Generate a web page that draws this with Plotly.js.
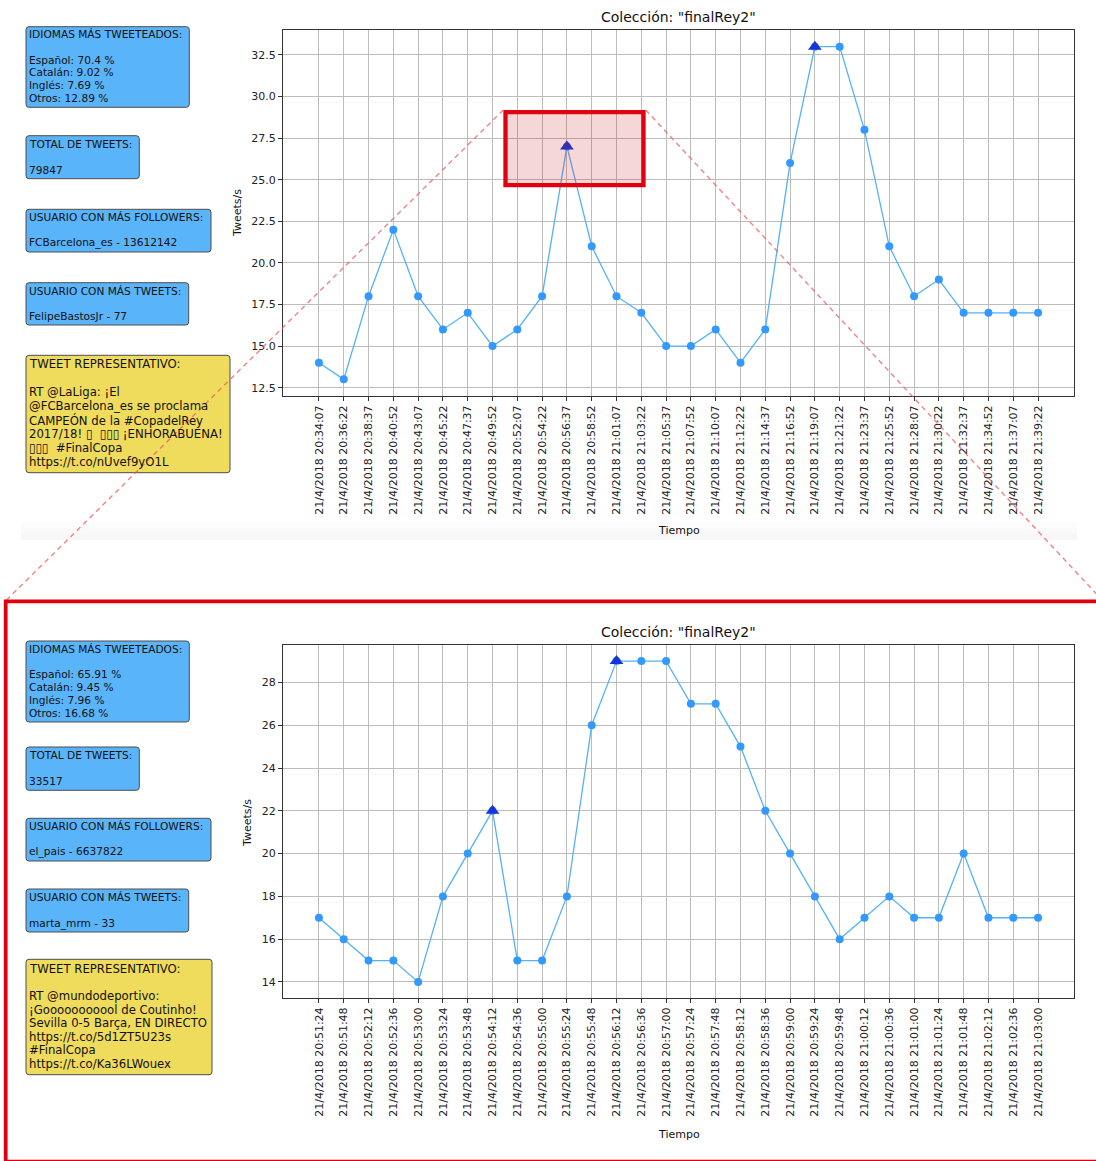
<!DOCTYPE html>
<html>
<head>
<meta charset="utf-8">
<script src="https://cdn.plot.ly/plotly-3.0.1.min.js"></script>
<style>html,body{margin:0;padding:0;background:#fff;}#chart{width:1096px;height:1161px;}</style>
</head>
<body>
<div id="chart"></div>
<script>
// ---------- DATA ----------
const timesTop = ["21/4/2018 20:34:07","21/4/2018 20:36:22","21/4/2018 20:38:37","21/4/2018 20:40:52","21/4/2018 20:43:07","21/4/2018 20:45:22","21/4/2018 20:47:37","21/4/2018 20:49:52","21/4/2018 20:52:07","21/4/2018 20:54:22","21/4/2018 20:56:37","21/4/2018 20:58:52","21/4/2018 21:01:07","21/4/2018 21:03:22","21/4/2018 21:05:37","21/4/2018 21:07:52","21/4/2018 21:10:07","21/4/2018 21:12:22","21/4/2018 21:14:37","21/4/2018 21:16:52","21/4/2018 21:19:07","21/4/2018 21:21:22","21/4/2018 21:23:37","21/4/2018 21:25:52","21/4/2018 21:28:07","21/4/2018 21:30:22","21/4/2018 21:32:37","21/4/2018 21:34:52","21/4/2018 21:37:07","21/4/2018 21:39:22"];
const tweetsTop = [14,13,18,22,18,16,17,15,16,18,27,21,18,17,15,15,16,14,16,26,33,33,28,21,18,19,17,17,17,17];
const peaksTop = [10,20];

const timesBottom = ["21/4/2018 20:51:24","21/4/2018 20:51:48","21/4/2018 20:52:12","21/4/2018 20:52:36","21/4/2018 20:53:00","21/4/2018 20:53:24","21/4/2018 20:53:48","21/4/2018 20:54:12","21/4/2018 20:54:36","21/4/2018 20:55:00","21/4/2018 20:55:24","21/4/2018 20:55:48","21/4/2018 20:56:12","21/4/2018 20:56:36","21/4/2018 20:57:00","21/4/2018 20:57:24","21/4/2018 20:57:48","21/4/2018 20:58:12","21/4/2018 20:58:36","21/4/2018 20:59:00","21/4/2018 20:59:24","21/4/2018 20:59:48","21/4/2018 21:00:12","21/4/2018 21:00:36","21/4/2018 21:01:00","21/4/2018 21:01:24","21/4/2018 21:01:48","21/4/2018 21:02:12","21/4/2018 21:02:36","21/4/2018 21:03:00"];
const tweetsBottom = [17,16,15,15,14,18,20,22,15,15,18,26,29,29,29,27,27,25,22,20,18,16,17,18,17,17,20,17,17,17];
const peaksBottom = [7,12];

const chartTitle = 'Colección: "finalRey2"';
const xTitle = "Tiempo";
const yTitle = "Tweets/s";

const idiomasTop = ["IDIOMAS MÁS TWEETEADOS:","","Español: 70.4 %","Catalán: 9.02 %","Inglés: 7.69 %","Otros: 12.89 %"];
const totalTop = ["TOTAL DE TWEETS:","","79847"];
const followersTop = ["USUARIO CON MÁS FOLLOWERS:","","FCBarcelona_es - 13612142"];
const userTweetsTop = ["USUARIO CON MÁS TWEETS:","","FelipeBastosJr - 77"];
const tweetTop = ["TWEET REPRESENTATIVO:","","RT @LaLiga: ¡El","@FCBarcelona_es se proclama","CAMPEÓN de la #CopadelRey","2017/18! ▯\u00a0\u00a0▯▯▯ ¡ENHORABUENA!","▯▯▯\u00a0\u00a0#FinalCopa","https://t.co/nUvef9yO1L"];

const idiomasBottom = ["IDIOMAS MÁS TWEETEADOS:","","Español: 65.91 %","Catalán: 9.45 %","Inglés: 7.96 %","Otros: 16.68 %"];
const totalBottom = ["TOTAL DE TWEETS:","","33517"];
const followersBottom = ["USUARIO CON MÁS FOLLOWERS:","","el_pais - 6637822"];
const userTweetsBottom = ["USUARIO CON MÁS TWEETS:","","marta_mrm - 33"];
const tweetBottom = ["TWEET REPRESENTATIVO:","","RT @mundodeportivo:","¡G" + "ooooo" + "ooooo" + "l de Coutinho!","Sevilla 0-5 Barça, EN DIRECTO","https://t.co/5d1ZT5U23s","#FinalCopa","https://t.co/Ka36LWouex"];

// ---------- LAYOUT HELPERS ----------
const W = 1096, H = 1161;
const PX = p => p / W;
const PY = p => 1 - p / H;
const FONT = 'DejaVu Sans, Verdana, sans-serif';
const BLUE = '#5ab4f9', YELLOW = '#f0dc5c';

const shapes = [];
const annotations = [];

function roundBox(x0, y0, x1, y1, r, fill) {
  const f = (x, y) => PX(x) + ',' + PY(y);
  const path = 'M' + f(x0 + r, y0) + ' L' + f(x1 - r, y0) + ' Q' + f(x1, y0) + ' ' + f(x1, y0 + r) +
    ' L' + f(x1, y1 - r) + ' Q' + f(x1, y1) + ' ' + f(x1 - r, y1) +
    ' L' + f(x0 + r, y1) + ' Q' + f(x0, y1) + ' ' + f(x0, y1 - r) +
    ' L' + f(x0, y0 + r) + ' Q' + f(x0, y0) + ' ' + f(x0 + r, y0) + ' Z';
  shapes.push({type: 'path', xref: 'paper', yref: 'paper', path: path, fillcolor: fill,
    line: {color: '#4d4d4d', width: 1}, layer: 'above'});
}
function infoBox(lines, x0, y0, x1, y1, fill, firstY, step, size) {
  roundBox(x0, y0, x1, y1, 3, fill);
  lines.forEach((t, i) => {
    if (!t) return;
    annotations.push({xref: 'paper', yref: 'paper', x: PX(29), y: PY(firstY + i * step),
      xanchor: 'left', yanchor: 'middle', text: t, showarrow: false, borderpad: 0, borderwidth: 0,
      font: {family: FONT, size: size, color: '#111'}});
  });
}

// top info boxes
infoBox(idiomasTop, 26, 26.7, 189.3, 107.3, BLUE, 34.3, 12.7, 10.6);
infoBox(totalTop, 26, 135.7, 139.3, 178.7, BLUE, 144.3, 12.7, 10.6);
infoBox(followersTop, 26, 209.3, 211, 252, BLUE, 217, 12.9, 10.6);
infoBox(userTweetsTop, 26, 282.7, 188.7, 325, BLUE, 291, 12.6, 10.6);
infoBox(tweetTop, 26, 355.3, 230, 472.7, YELLOW, 364, 14, 11.7);
// bottom info boxes
infoBox(idiomasBottom, 26, 641, 189.3, 722, BLUE, 648.7, 12.8, 10.6);
infoBox(totalBottom, 26, 747, 139.3, 790.3, BLUE, 755.3, 12.7, 10.6);
infoBox(followersBottom, 26, 818.3, 211, 861, BLUE, 826.3, 12.7, 10.6);
infoBox(userTweetsBottom, 26, 889, 188.7, 932, BLUE, 897, 13.1, 10.6);
infoBox(tweetBottom, 26, 959.3, 212, 1074.7, YELLOW, 969, 13.5, 11.7);

// faint screenshot shadow under the top chart
[[522, 528, 0.01], [528, 534, 0.02], [534, 540, 0.032]].forEach(s => {
  shapes.push({type: 'rect', xref: 'paper', yref: 'paper', x0: PX(21), x1: PX(1077), y0: PY(s[1]), y1: PY(s[0]),
    fillcolor: 'rgba(0,0,0,' + s[2] + ')', line: {width: 0}, layer: 'below'});
});

// zoom highlight rectangle
shapes.push({type: 'rect', xref: 'paper', yref: 'paper', x0: PX(505.5), x1: PX(643.5), y0: PY(185.2), y1: PY(112.2),
  fillcolor: 'rgba(200,20,20,0.17)', line: {color: '#e0000f', width: 4.3}, layer: 'above'});
// dashed connector lines
const dashLine = {color: 'rgba(236,90,90,0.75)', width: 1.4, dash: '5px,4px'};
shapes.push({type: 'line', xref: 'paper', yref: 'paper', x0: PX(503.3), y0: PY(110), x1: PX(5.5), y1: PY(601), line: dashLine, layer: 'above'});
shapes.push({type: 'line', xref: 'paper', yref: 'paper', x0: PX(645.7), y0: PY(110), x1: PX(1103), y1: PY(601), line: dashLine, layer: 'above'});
// zoomed view frame
shapes.push({type: 'rect', xref: 'paper', yref: 'paper', x0: PX(5.7), x1: PX(1110), y0: PY(1161.6), y1: PY(601.3),
  fillcolor: 'rgba(0,0,0,0)', line: {color: '#e0000f', width: 3.8}, layer: 'above'});

// titles
function label(text, x, y, size, angle) {
  annotations.push({xref: 'paper', yref: 'paper', x: PX(x), y: PY(y), xanchor: 'center', yanchor: 'middle',
    text: text, showarrow: false, textangle: angle || 0, borderpad: 0, font: {family: FONT, size: size, color: '#111'}});
}
label(chartTitle, 678.5, 17, 14);
label(chartTitle, 678.5, 632, 14);
label(xTitle, 678.5, 531, 11);
label(xTitle, 678.5, 1134, 11);
label(yTitle, 237, 213, 11, -90);
label(yTitle, 247, 823, 11, -90);

// ---------- TRACES ----------
const LINE_C = '#55b2f7', DOT_C = '#3399ff', TRI_C = '#1634d8';
const traces = [
  {x: timesTop, y: tweetsTop, xaxis: 'x', yaxis: 'y', type: 'scatter', mode: 'lines+markers',
   line: {color: LINE_C, width: 1.3}, marker: {color: DOT_C, size: 8, symbol: 'circle'}},
  {x: peaksTop.map(i => timesTop[i]), y: peaksTop.map(i => tweetsTop[i]), xaxis: 'x', yaxis: 'y', type: 'scatter', mode: 'markers',
   marker: {color: TRI_C, size: 12, symbol: 'triangle-up'}},
  {x: timesBottom, y: tweetsBottom, xaxis: 'x2', yaxis: 'y2', type: 'scatter', mode: 'lines+markers',
   line: {color: LINE_C, width: 1.3}, marker: {color: DOT_C, size: 8, symbol: 'circle'}},
  {x: peaksBottom.map(i => timesBottom[i]), y: peaksBottom.map(i => tweetsBottom[i]), xaxis: 'x2', yaxis: 'y2', type: 'scatter', mode: 'markers',
   marker: {color: TRI_C, size: 12, symbol: 'triangle-up'}}
];

const gridC = '#bcbcbc';
function xAxis(anchor) {
  return {domain: [PX(283), PX(1074)], anchor: anchor, type: 'category', range: [-1.45, 30.45],
    tickmode: 'linear', tick0: 0, dtick: 1, tickangle: -90, ticks: 'outside', ticklen: 4, tickcolor: '#333',
    showgrid: true, gridcolor: gridC, gridwidth: 1, showline: true, mirror: true, linecolor: '#333', linewidth: 1,
    zeroline: false, automargin: false, tickfont: {family: FONT, size: 11, color: '#222'}, fixedrange: true};
}
function yAxis(anchor, dom, range, t0, dt, fmt) {
  return {domain: dom, anchor: anchor, range: range, tickmode: 'linear', tick0: t0, dtick: dt, tickformat: fmt,
    ticks: 'outside', ticklen: 4, tickcolor: '#333', showgrid: true, gridcolor: gridC, gridwidth: 1,
    showline: true, mirror: true, linecolor: '#333', linewidth: 1, zeroline: false, automargin: false,
    tickfont: {family: FONT, size: 11, color: '#222'}, fixedrange: true};
}

const layout = {
  width: W, height: H, margin: {l: 0, r: 0, t: 0, b: 0, pad: 0},
  paper_bgcolor: '#ffffff', plot_bgcolor: '#ffffff', showlegend: false,
  font: {family: FONT, size: 11, color: '#222'},
  xaxis: xAxis('y'),
  yaxis: yAxis('x', [PY(396), PY(30)], [12, 34], 12.5, 2.5, '.1f'),
  xaxis2: xAxis('y2'),
  yaxis2: yAxis('x2', [PY(998), PY(645)], [13.25, 29.75], 14, 2, 'd'),
  shapes: shapes,
  annotations: annotations
};

Plotly.newPlot('chart', traces, layout, {staticPlot: true, displayModeBar: false});
</script>
</body>
</html>
